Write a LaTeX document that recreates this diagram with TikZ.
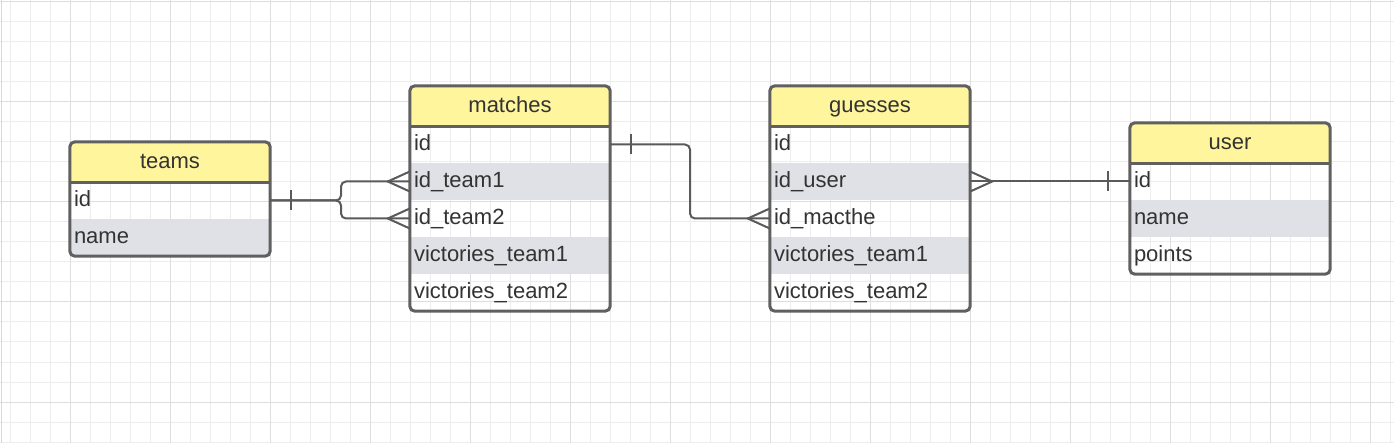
\documentclass[tikz,border=0pt]{standalone}
\usepackage{fontspec}
\setmainfont{Liberation Sans}
\usetikzlibrary{positioning}

\definecolor{headyellow}{HTML}{FFF59D}
\definecolor{rowgray}{HTML}{DFE1E6}
\definecolor{edgegray}{HTML}{606060}
\definecolor{linkgray}{HTML}{5A5A5A}
\definecolor{ink}{HTML}{333333}
\definecolor{gridminor}{HTML}{EDEDED}
\definecolor{gridmajor}{HTML}{DEDEDE}

\tikzset{
    head/.style={fill=headyellow, minimum width=200, minimum height=40, inner sep=0,
        text height=16, text depth=3, text=ink, font=\fontsize{22}{26}\selectfont},
    row/.style={minimum width=200, minimum height=37, text width=192, align=left,
        inner xsep=4, inner ysep=0, text height=16, text depth=4, text=ink,
        font=\fontsize{22}{26}\selectfont},
    grayrow/.style={row, fill=rowgray},
    box/.style={draw=edgegray, line width=3, rounded corners=5},
    link/.style={draw=linkgray, line width=2}
}

% crow's foot and one-bar marks
\newcommand{\crowfoot}[2]{\draw[link] ([yshift=10]#1) -- ([xshift=#2]#1) -- ([yshift=-10]#1);}
\newcommand{\onebar}[2]{\draw[link] ([xshift=#2,yshift=10]#1) -- ([xshift=#2,yshift=-10]#1);}

\begin{document}
\begin{tikzpicture}[x=1pt, y=-1pt]
    \useasboundingbox (0,0) rectangle (1394,443);
    \fill[white] (0,0) rectangle (1394,443);

    % grid
    \foreach \x in {10,30,...,1390} \draw[gridminor, line width=1] (\x,0) -- (\x,443);
    \foreach \y in {2,22,...,442} \draw[gridminor, line width=1] (0,\y) -- (1394,\y);
    \foreach \x in {70,170,...,1370} \draw[gridmajor, line width=1] (\x,0) -- (\x,443);
    \foreach \y in {2,102,...,402} \draw[gridmajor, line width=1] (0,\y) -- (1394,\y);
    \draw[color=gray!30!blue!20, line width=1] (1.5,0) -- (1.5,443);

    % teams
    \node[head] (teams) at (170,162) {teams};
    \node[row] (teams id) at (170,200.5) {id};
    \node[grayrow] (teams name) at (170,237.5) {name};
    \draw[box] (teams.north west) rectangle (teams name.south east);
    \draw[edgegray, line width=3] (teams.south west) -- (teams.south east);

    % matches
    \node[head] (matches) at (510,106) {matches};
    \node[row] (matches id) at (510,144.5) {id};
    \node[grayrow] (matches team1) at (510,181.5) {id\_team1};
    \node[row] (matches team2) at (510,218.5) {id\_team2};
    \node[grayrow] (matches v1) at (510,255.5) {victories\_team1};
    \node[row] (matches v2) at (510,292.5) {victories\_team2};
    \draw[box] (matches.north west) rectangle (matches v2.south east);
    \draw[edgegray, line width=3] (matches.south west) -- (matches.south east);

    % guesses
    \node[head] (guesses) at (870,106) {guesses};
    \node[row] (guesses id) at (870,144.5) {id};
    \node[grayrow] (guesses user) at (870,181.5) {id\_user};
    \node[row] (guesses macthe) at (870,218.5) {id\_macthe};
    \node[grayrow] (guesses v1) at (870,255.5) {victories\_team1};
    \node[row] (guesses v2) at (870,292.5) {victories\_team2};
    \draw[box] (guesses.north west) rectangle (guesses v2.south east);
    \draw[edgegray, line width=3] (guesses.south west) -- (guesses.south east);

    % user
    \node[head] (user) at (1230,143) {user};
    \node[row] (user id) at (1230,181.5) {id};
    \node[grayrow] (user name) at (1230,218.5) {name};
    \node[row] (user points) at (1230,255.5) {points};
    \draw[box] (user.north west) rectangle (user points.south east);
    \draw[edgegray, line width=3] (user.south west) -- (user.south east);

    % relations
    \coordinate (split) at (341,200.5);
    \coordinate (bend) at (690,144.5);
    \draw[link, rounded corners=5] (teams id.east) -- (split) |- (matches team1.west);
    \draw[link, rounded corners=5] (teams id.east) -- (split) |- (matches team2.west);
    \draw[link, rounded corners=5] (matches id.east) -- (bend) |- (guesses macthe.west);
    \draw[link] (guesses user.east) -- (user id.west);

    \onebar{teams id.east}{21}
    \crowfoot{matches team1.west}{-22}
    \crowfoot{matches team2.west}{-22}
    \onebar{matches id.east}{21}
    \crowfoot{guesses macthe.west}{-22}
    \crowfoot{guesses user.east}{22}
    \onebar{user id.west}{-22}
\end{tikzpicture}
\end{document}
